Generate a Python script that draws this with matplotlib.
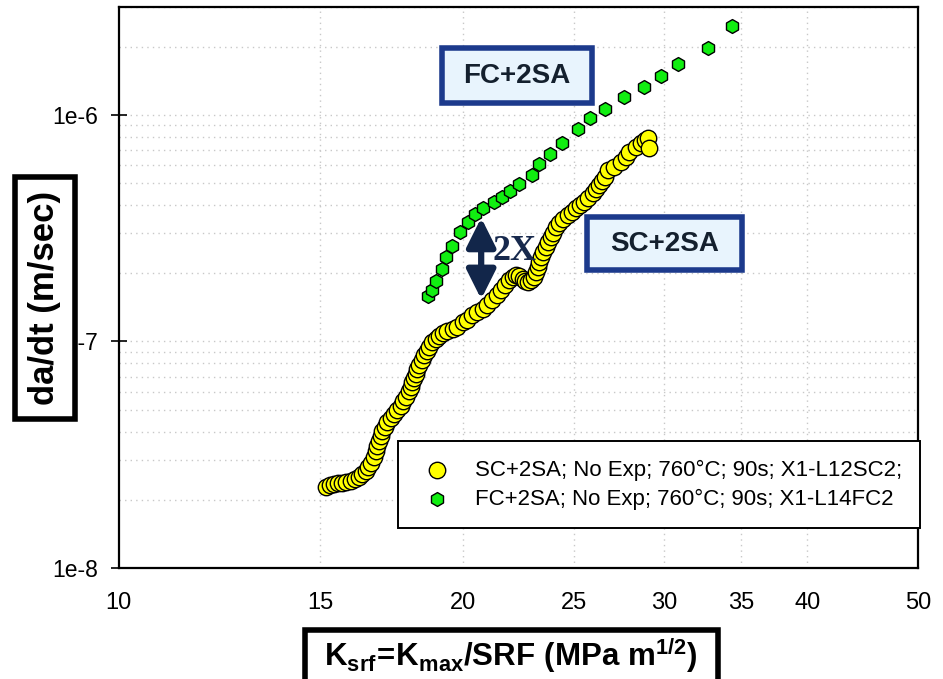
import matplotlib
matplotlib.use("Agg")
import matplotlib.pyplot as plt
from matplotlib.patches import Rectangle
from matplotlib.ticker import FixedLocator, LogLocator, NullFormatter, NullLocator

# SC+2SA; No Exp; 760C; 90s; X1-L12SC2
sc_k = [15.17, 15.30, 15.43, 15.55, 15.69, 15.82, 15.96, 16.10, 16.23, 16.34,
        16.45, 16.52, 16.61, 16.71, 16.78, 16.84, 16.89, 16.95, 17.01, 17.09,
        17.18, 17.29, 17.41, 17.53, 17.65, 17.74, 17.83, 17.95, 18.01, 18.07,
        18.13, 18.19, 18.25, 18.31, 18.41, 18.50, 18.59, 18.69, 18.81, 18.94,
        19.07, 19.20, 19.38, 19.59, 19.77, 19.99, 20.18, 20.39, 20.59, 20.81,
        21.01, 21.23, 21.41, 21.59, 21.78, 21.96, 22.11, 22.26, 22.41, 22.56,
        22.68, 22.78, 22.93, 23.09, 23.19, 23.25, 23.33, 23.41, 23.52, 23.65,
        23.76, 23.89, 23.96, 24.13, 24.29, 24.49, 24.70, 24.91, 25.12, 25.34,
        25.54, 25.75, 25.98, 26.14, 26.33, 26.46, 26.60, 26.77, 27.14, 27.51,
        27.78, 27.97, 28.35, 28.60, 28.83, 29.02, 29.09]
sc_rate = [2.28e-8, 2.32e-8, 2.35e-8, 2.37e-8, 2.38e-8, 2.40e-8, 2.43e-8, 2.46e-8, 2.51e-8, 2.59e-8,
           2.69e-8, 2.80e-8, 2.92e-8, 3.10e-8, 3.29e-8, 3.47e-8, 3.65e-8, 3.84e-8, 4.04e-8, 4.21e-8,
           4.39e-8, 4.59e-8, 4.79e-8, 5.00e-8, 5.21e-8, 5.43e-8, 5.67e-8, 6.07e-8, 6.32e-8, 6.61e-8,
           6.89e-8, 7.20e-8, 7.52e-8, 7.83e-8, 8.24e-8, 8.67e-8, 9.03e-8, 9.44e-8, 9.95e-8, 1.028e-7,
           1.058e-7, 1.085e-7, 1.107e-7, 1.130e-7, 1.153e-7, 1.214e-7, 1.245e-7, 1.303e-7, 1.344e-7, 1.395e-7,
           1.450e-7, 1.518e-7, 1.598e-7, 1.681e-7, 1.769e-7, 1.862e-7, 1.919e-7, 1.959e-7, 1.939e-7, 1.894e-7,
           1.852e-7, 1.830e-7, 1.862e-7, 1.925e-7, 2.030e-7, 2.132e-7, 2.247e-7, 2.360e-7, 2.489e-7, 2.613e-7,
           2.756e-7, 2.893e-7, 2.995e-7, 3.204e-7, 3.317e-7, 3.465e-7, 3.610e-7, 3.741e-7, 3.865e-7, 3.997e-7,
           4.134e-7, 4.314e-7, 4.503e-7, 4.705e-7, 4.900e-7, 5.104e-7, 5.333e-7, 5.710e-7, 5.905e-7, 6.214e-7,
           6.539e-7, 6.880e-7, 7.240e-7, 7.519e-7, 7.752e-7, 7.887e-7, 7.123e-7]

# FC+2SA; No Exp; 760C; 90s; X1-L14FC2
fc_k = [18.66, 18.79, 18.96, 19.19, 19.35, 19.56, 19.89, 20.19, 20.50, 20.84,
        21.30, 21.66, 22.00, 22.41, 22.97, 23.33, 23.84, 24.42, 25.20, 25.86,
        26.60, 27.65, 28.79, 29.78, 30.87, 32.76, 34.40]
fc_rate = [1.58e-7, 1.68e-7, 1.85e-7, 2.08e-7, 2.36e-7, 2.63e-7, 3.04e-7, 3.35e-7, 3.65e-7, 3.87e-7,
           4.11e-7, 4.35e-7, 4.61e-7, 4.95e-7, 5.43e-7, 6.07e-7, 6.70e-7, 7.54e-7, 8.64e-7, 9.67e-7,
           1.06e-6, 1.20e-6, 1.33e-6, 1.48e-6, 1.68e-6, 1.97e-6, 2.46e-6]

labels = ["SC+2SA; No Exp; 760°C; 90s; X1-L12SC2;",
          "FC+2SA; No Exp; 760°C; 90s; X1-L14FC2"]
x_ticks = [10, 15, 20, 25, 30, 35, 40, 50]
x_grid = [15, 20, 25, 30, 35, 40]
y_ticks = [1e-8, 1e-7, 1e-6]
y_tick_labels = ["1e-8", "1e-7", "1e-6"]

plt.rcParams['font.family'] = ['Liberation Sans', 'DejaVu Sans']
plt.rcParams['mathtext.fontset'] = 'custom'
plt.rcParams['mathtext.rm'] = 'Liberation Sans:bold'
plt.rcParams['mathtext.bf'] = 'Liberation Sans:bold'
plt.rcParams['mathtext.it'] = 'Liberation Sans:bold'

fig = plt.figure(figsize=(9.43, 6.79), dpi=100)
ax = fig.add_axes([0.1257, 0.1635, 0.9735 - 0.1257, 0.9901 - 0.1635])

ax.set_xscale('log')
ax.set_yscale('log')
ax.set_xlim(10, 50)
ax.set_ylim(1e-8, 3.0e-6)

# ticks + dotted grid
ax.xaxis.set_major_locator(FixedLocator(x_ticks))
ax.set_xticklabels([str(t) for t in x_ticks])
ax.xaxis.set_minor_locator(NullLocator())
ax.yaxis.set_major_locator(FixedLocator(y_ticks))
ax.set_yticklabels(y_tick_labels)
ax.yaxis.set_minor_locator(LogLocator(base=10, subs=range(2, 10)))
ax.yaxis.set_minor_formatter(NullFormatter())
for g in x_grid:
    ax.axvline(g, color='#c8c8c8', lw=1, ls=(0, (1, 3)), zorder=0)
ax.grid(True, which='both', axis='y', color='#c8c8c8', lw=1, ls=(0, (1, 3)), zorder=0)

ax.tick_params(axis='y', which='major', direction='inout', length=12, width=1.2,
               labelsize=16.5, pad=9)
ax.tick_params(axis='y', which='minor', length=0)
ax.tick_params(axis='x', which='major', length=0, pad=17, labelsize=17)

for s in ax.spines.values():
    s.set_linewidth(1.6)
    s.set_color('black')

ax.scatter(sc_k, sc_rate, s=140, marker='o', facecolor='#ffff00', edgecolor='black',
           linewidth=1.0, zorder=3, label=labels[0])
ax.scatter(fc_k, fc_rate, s=100, marker='h', facecolor='#11ee11', edgecolor='black',
           linewidth=1.0, zorder=4, label=labels[1])

leg = ax.legend(loc='upper left', bbox_to_anchor=(0.3493, 0.2254), borderaxespad=0,
                fontsize=16, frameon=True, fancybox=False, edgecolor='black',
                framealpha=1, borderpad=0.82, labelspacing=0.35, handlelength=1.85,
                handletextpad=0.8)
leg.get_frame().set_linewidth(1.4)
leg.set_zorder(6)

# annotation boxes
for x0, y0, w, h in [(0.4046, 0.8284, 0.1876, 0.098), (0.586, 0.5309, 0.1939, 0.0944)]:
    ax.add_patch(Rectangle((x0, y0), w, h, transform=ax.transAxes, facecolor='#e8f4fd',
                           edgecolor='#1c3a8c', linewidth=4, zorder=7, clip_on=False))
ax.text(0.4985, 0.8774, 'FC+2SA', transform=ax.transAxes, ha='center', va='center',
        fontsize=20, fontweight='bold', color='#14202e', zorder=8)
ax.text(0.6829, 0.5781, 'SC+2SA', transform=ax.transAxes, ha='center', va='center',
        fontsize=20, fontweight='bold', color='#14202e', zorder=8)

ax.annotate('', xy=(0.4536, 0.624), xytext=(0.4536, 0.479), xycoords='axes fraction',
            arrowprops=dict(arrowstyle='<|-|>,head_width=0.4,head_length=0.8', lw=4.5,
                            color='#12264a', shrinkA=0, shrinkB=0, mutation_scale=22),
            zorder=5)
ax.text(0.4950, 0.5637, '2X', transform=ax.transAxes, ha='center', va='center',
        fontsize=26, fontweight='bold', family=['Liberation Serif', 'DejaVu Serif'],
        color='#17294d', zorder=5)

# boxed axis titles
fig.text(0.0477, 0.561, 'da/dt (m/sec)', rotation=90, ha='center', va='center',
         fontsize=25, fontweight='bold',
         bbox=dict(boxstyle='square,pad=0.4', facecolor='white', edgecolor='black', linewidth=4))
fig.patches.append(Rectangle((0.3234, -0.05), 0.438, 0.1222, transform=fig.transFigure,
                             facecolor='white', edgecolor='black', linewidth=4, zorder=1))
fig.text(0.542, 0.034, r'$\mathbf{K_{srf}\!=\!K_{max}/SRF\ (MPa\ m^{1/2})}$', ha='center',
         va='center', fontsize=22.5, zorder=2)

fig.savefig('out.png', dpi=100)
